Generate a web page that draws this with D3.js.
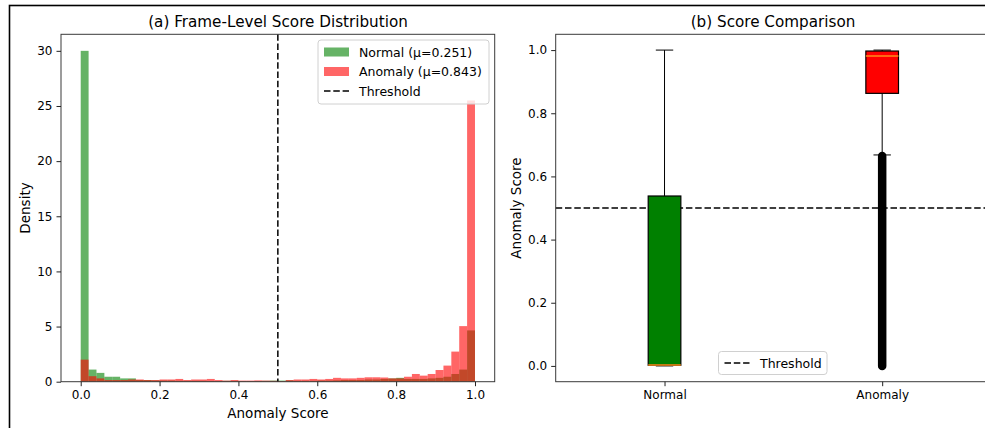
<!DOCTYPE html>
<html>
<head>
<meta charset="utf-8">
<script src="https://cdn.jsdelivr.net/npm/d3@7"></script>
<style>
	body { margin: 0; background: #fff; overflow: hidden; }
	svg { display: block; font-family: 'DejaVu Sans', sans-serif; }
	.tick text { fill: #000; }
</style>
</head>
<body>
<script>
'use strict';

// histogram bins (width 0.02 from 0 to 1), density per bin
var binEdges = [0.00, 0.02, 0.04, 0.06, 0.08, 0.10, 0.12, 0.14, 0.16, 0.18,
	0.20, 0.22, 0.24, 0.26, 0.28, 0.30, 0.32, 0.34, 0.36, 0.38,
	0.40, 0.42, 0.44, 0.46, 0.48, 0.50, 0.52, 0.54, 0.56, 0.58,
	0.60, 0.62, 0.64, 0.66, 0.68, 0.70, 0.72, 0.74, 0.76, 0.78,
	0.80, 0.82, 0.84, 0.86, 0.88, 0.90, 0.92, 0.94, 0.96, 0.98, 1.00];

var normalDensity = [30.0, 1.10, 0.80, 0.45, 0.45, 0.30, 0.30, 0.15, 0.15, 0.12,
	0.10, 0.10, 0.08, 0.08, 0.08, 0.08, 0.06, 0.06, 0.08, 0.08,
	0.06, 0.06, 0.06, 0.08, 0.10, 0.10, 0.12, 0.08, 0.08, 0.08,
	0.10, 0.10, 0.12, 0.15, 0.15, 0.15, 0.20, 0.20, 0.25, 0.30,
	0.35, 0.25, 0.25, 0.25, 0.30, 0.35, 0.45, 0.70, 1.10, 4.65];

var anomalyDensity = [2.00, 0.50, 0.30, 0.15, 0.15, 0.15, 0.20, 0.20, 0.15, 0.15,
	0.20, 0.20, 0.25, 0.15, 0.20, 0.20, 0.25, 0.15, 0.10, 0.15,
	0.10, 0.10, 0.12, 0.10, 0.08, 0.05, 0.15, 0.20, 0.20, 0.25,
	0.20, 0.25, 0.35, 0.30, 0.30, 0.35, 0.40, 0.40, 0.38, 0.30,
	0.30, 0.45, 0.70, 0.55, 0.70, 1.06, 1.46, 2.73, 5.04, 25.5];

var threshold = 0.5;

var histXTicks = [0.0, 0.2, 0.4, 0.6, 0.8, 1.0],
	histYTicks = [0, 5, 10, 15, 20, 25, 30];

// box plot summaries: [lower whisker, q1, median, q3, upper whisker]
var boxGroups = ['Normal', 'Anomaly'],
	boxStats = [
		[0.0, 0.002, 0.003, 0.538, 1.0],
		[0.668, 0.863, 0.981, 0.997, 1.0]
	],
	// dense flier column for the anomaly group (min, max)
	flierExtent = [null, [0.0, 0.665]],
	boxColors = ['#008000', '#ff0000'],
	boxYTicks = [0.0, 0.2, 0.4, 0.6, 0.8, 1.0];

var legendItems = ['Normal (\u03bc=0.251)', 'Anomaly (\u03bc=0.843)', 'Threshold'];

var W = 985, H = 428,
	plotTop = 34.3, plotBottom = 381.7,
	dash = '6.5,2.8';

var svg = d3.select('body').append('svg')
	.attr('width', W)
	.attr('height', H);

// outer frame, cut by the window at right and bottom
svg.append('rect')
	.attr('x', 9.5).attr('y', 5.5)
	.attr('width', 1000).attr('height', 500)
	.attr('fill', 'none')
	.attr('stroke', '#000')
	.attr('stroke-width', 1.6);

drawHistogram();
drawBoxes();

/*
* Left panel: overlapping histograms.
*/
function drawHistogram() {
	var x = d3.scaleLinear().domain([-0.05, 1.05]).range([61, 494.7]),
		y = d3.scaleLinear().domain([0, 31.5]).range([plotBottom, plotTop]);

	var g = svg.append('g');

	var sets = [
		{values: normalDensity, color: 'green'},
		{values: anomalyDensity, color: 'red'}
	];

	sets.forEach(function(s) {
		g.append('g').selectAll('rect')
			.data(s.values).enter()
			.append('rect')
				.attr('x', function(d, i) { return x(binEdges[i]); })
				.attr('width', function(d, i) { return x(binEdges[i + 1]) - x(binEdges[i]); })
				.attr('y', function(d) { return y(d); })
				.attr('height', function(d) { return y(0) - y(d); })
				.attr('fill', s.color)
				.attr('fill-opacity', 0.6);
	});

	g.append('line')
		.attr('x1', x(threshold)).attr('x2', x(threshold))
		.attr('y1', plotTop).attr('y2', plotBottom)
		.attr('stroke', '#000')
		.attr('stroke-width', 1.5)
		.attr('stroke-dasharray', dash);

	makeFrame(g, x.range());

	g.append('g')
		.attr('transform', 'translate(0,' + plotBottom + ')')
		.call(d3.axisBottom(x).tickValues(histXTicks).tickFormat(d3.format('.1f'))
			.tickSize(4.5).tickPadding(4))
		.call(styleAxis);

	g.append('g')
		.attr('transform', 'translate(61,0)')
		.call(d3.axisLeft(y).tickValues(histYTicks).tickSize(4.5).tickPadding(4))
		.call(styleAxis);

	g.append('text')
		.attr('x', 278).attr('y', 27)
		.attr('text-anchor', 'middle')
		.attr('font-size', 15.2)
		.text('(a) Frame-Level Score Distribution');

	g.append('text')
		.attr('x', 278).attr('y', 418)
		.attr('text-anchor', 'middle')
		.attr('font-size', 13.5)
		.text('Anomaly Score');

	g.append('text')
		.attr('transform', 'translate(30,208) rotate(-90)')
		.attr('text-anchor', 'middle')
		.attr('font-size', 13.5)
		.text('Density');

	// legend
	var lg = g.append('g').attr('transform', 'translate(318,40)');
	lg.append('rect')
		.attr('width', 171).attr('height', 64)
		.attr('rx', 3)
		.attr('fill', '#fff').attr('fill-opacity', 0.8)
		.attr('stroke', '#d0d0d0');

	var rows = lg.selectAll('.legend')
		.data(legendItems).enter()
		.append('g')
			.attr('class', 'legend')
			.attr('transform', function(d, i) { return 'translate(0,' + (12 + i * 19.5) + ')'; });

	rows.filter(function(d, i) { return i < 2; })
		.append('rect')
			.attr('x', 6).attr('y', -4.5)
			.attr('width', 25).attr('height', 9)
			.attr('fill', function(d, i) { return i === 0 ? 'green' : 'red'; })
			.attr('fill-opacity', 0.6);

	rows.filter(function(d, i) { return i === 2; })
		.append('line')
			.attr('x1', 6).attr('x2', 31)
			.attr('stroke', '#000')
			.attr('stroke-width', 1.5)
			.attr('stroke-dasharray', dash);

	rows.append('text')
		.attr('x', 41)
		.attr('dy', '0.36em')
		.attr('font-size', 12.5)
		.text(function(d) { return d; });
}

/*
* Right panel: box plots with threshold.
*/
function drawBoxes() {
	var x = d3.scaleLinear().domain([0.5, 2.5]).range([555.7, 991]),
		y = d3.scaleLinear().domain([-0.05, 1.05]).range([plotBottom, plotTop]),
		half = 0.075, cap = 0.04;

	var g = svg.append('g');

	g.append('line')
		.attr('x1', x.range()[0]).attr('x2', x.range()[1])
		.attr('y1', y(threshold)).attr('y2', y(threshold))
		.attr('stroke', '#000')
		.attr('stroke-width', 1.5)
		.attr('stroke-dasharray', dash);

	var box = g.selectAll('.box')
		.data(boxStats).enter()
		.append('g')
			.attr('class', 'box');

	// whiskers
	box.append('line')
		.attr('x1', function(d, i) { return x(i + 1); })
		.attr('x2', function(d, i) { return x(i + 1); })
		.attr('y1', function(d) { return y(d[0]); })
		.attr('y2', function(d) { return y(d[1]); })
		.attr('stroke', '#000');
	box.append('line')
		.attr('x1', function(d, i) { return x(i + 1); })
		.attr('x2', function(d, i) { return x(i + 1); })
		.attr('y1', function(d) { return y(d[3]); })
		.attr('y2', function(d) { return y(d[4]); })
		.attr('stroke', '#000');

	// caps
	[0, 4].forEach(function(k) {
		box.append('line')
			.attr('x1', function(d, i) { return x(i + 1 - cap); })
			.attr('x2', function(d, i) { return x(i + 1 + cap); })
			.attr('y1', function(d) { return y(d[k]); })
			.attr('y2', function(d) { return y(d[k]); })
			.attr('stroke', '#000');
	});

	// fliers
	box.filter(function(d, i) { return flierExtent[i]; })
		.append('line')
			.attr('x1', x(2)).attr('x2', x(2))
			.attr('y1', y(flierExtent[1][0]))
			.attr('y2', y(flierExtent[1][1]))
			.attr('stroke', '#000')
			.attr('stroke-width', 8.5)
			.attr('stroke-linecap', 'round');

	box.append('rect')
		.attr('x', function(d, i) { return x(i + 1 - half); })
		.attr('width', x(1 + half) - x(1 - half))
		.attr('y', function(d) { return y(d[3]); })
		.attr('height', function(d) { return y(d[1]) - y(d[3]); })
		.attr('fill', function(d, i) { return boxColors[i]; })
		.attr('stroke', '#000')
		.attr('stroke-width', 1.2);

	box.append('line')
		.attr('x1', function(d, i) { return x(i + 1 - half); })
		.attr('x2', function(d, i) { return x(i + 1 + half); })
		.attr('y1', function(d) { return y(d[2]); })
		.attr('y2', function(d) { return y(d[2]); })
		.attr('stroke', '#ff8c1a')
		.attr('stroke-width', 1.5);

	makeFrame(g, x.range());

	g.append('g')
		.attr('transform', 'translate(0,' + plotBottom + ')')
		.call(d3.axisBottom(x).tickValues([1, 2])
			.tickFormat(function(d) { return boxGroups[d - 1]; })
			.tickSize(4.5).tickPadding(4))
		.call(styleAxis);

	g.append('g')
		.attr('transform', 'translate(555.7,0)')
		.call(d3.axisLeft(y).tickValues(boxYTicks).tickFormat(d3.format('.1f'))
			.tickSize(4.5).tickPadding(4))
		.call(styleAxis);

	g.append('text')
		.attr('x', 773).attr('y', 27)
		.attr('text-anchor', 'middle')
		.attr('font-size', 15.2)
		.text('(b) Score Comparison');

	g.append('text')
		.attr('transform', 'translate(521,208) rotate(-90)')
		.attr('text-anchor', 'middle')
		.attr('font-size', 13.5)
		.text('Anomaly Score');

	// legend
	var lg = g.append('g').attr('transform', 'translate(718.5,351.5)');
	lg.append('rect')
		.attr('width', 108.5).attr('height', 23)
		.attr('rx', 3)
		.attr('fill', '#fff').attr('fill-opacity', 0.8)
		.attr('stroke', '#d0d0d0');
	lg.append('line')
		.attr('x1', 6).attr('x2', 31)
		.attr('y1', 11.5).attr('y2', 11.5)
		.attr('stroke', '#000')
		.attr('stroke-width', 1.5)
		.attr('stroke-dasharray', dash);
	lg.append('text')
		.attr('x', 41.5).attr('y', 11.5)
		.attr('dy', '0.36em')
		.attr('font-size', 12.5)
		.text(legendItems[2]);
}

/*
* Axes box (spines).
*/
function makeFrame(g, xr) {
	g.append('rect')
		.attr('x', xr[0]).attr('y', plotTop)
		.attr('width', xr[1] - xr[0]).attr('height', plotBottom - plotTop)
		.attr('fill', 'none')
		.attr('stroke', '#3a3a3a')
		.attr('stroke-width', 1);
}

function styleAxis(sel) {
	sel.select('.domain').remove();
	sel.selectAll('.tick line').attr('stroke', '#222');
	sel.selectAll('.tick text')
		.attr('font-size', 12)
		.attr('font-family', "'DejaVu Sans', sans-serif");
}
</script>
</body>
</html>
